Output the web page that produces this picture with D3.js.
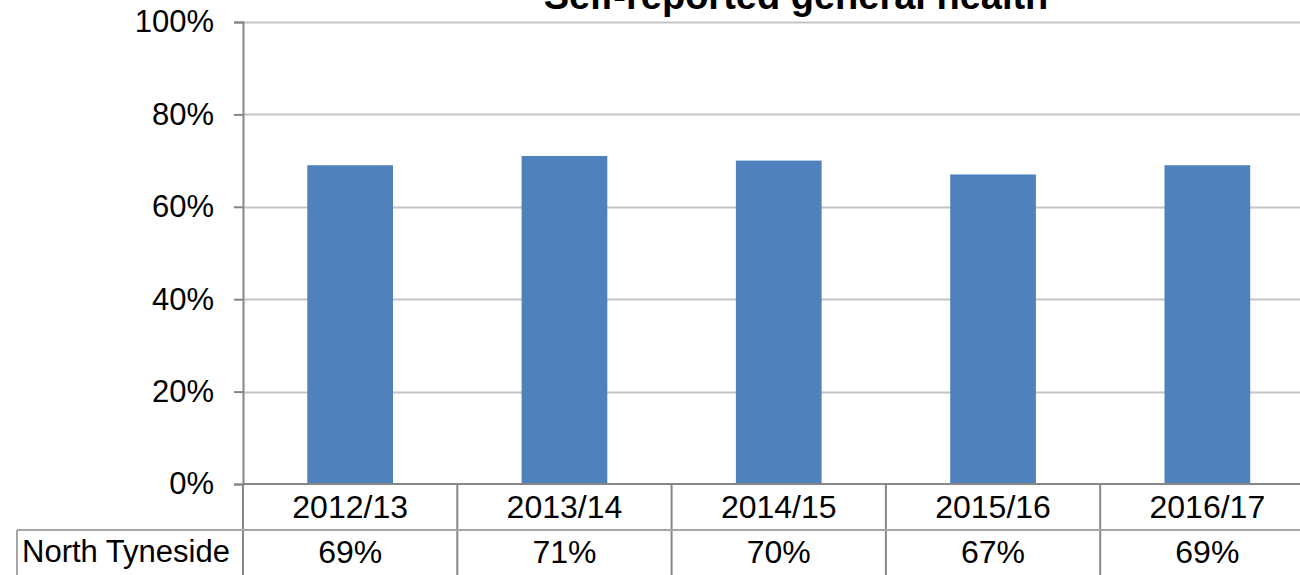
<!DOCTYPE html>
<html>
<head>
<meta charset="utf-8">
<script src="https://cdn.jsdelivr.net/npm/d3@7"></script>
<style>
  html, body { margin: 0; padding: 0; background: #fff; overflow: hidden; }
  svg { display: block; font-family: "Liberation Sans", Arial, Helvetica, sans-serif; }
</style>
</head>
<body>
<svg id="chart" width="1300" height="575"></svg>
<script>
const title = "Self-reported general health";
const categories = ["2012/13", "2013/14", "2014/15", "2015/16", "2016/17"];
const seriesName = "North Tyneside";
const values = [0.69, 0.71, 0.70, 0.67, 0.69];
const yTicks = [0, 0.2, 0.4, 0.6, 0.8, 1.0];

const svg = d3.select("#chart");
const W = 1300, H = 575;
const plotLeft = 243, plotRight = 1314.5, plotTop = 22, plotBottom = 484;
const row1Bottom = 530, rowHeaderLeft = 17;

const x = d3.scaleBand().domain(categories).range([plotLeft, plotRight]).paddingInner(0.6).paddingOuter(0.3);
const xCell = d3.scaleBand().domain(categories).range([plotLeft, plotRight]).padding(0);
const y = d3.scaleLinear().domain([0, 1]).range([plotBottom, plotTop]);

const axisColor = "#868686";
const gridColor = "#c4c4c4";

// gridlines
svg.append("g").selectAll("line").data(yTicks.filter(d => d > 0)).join("line")
  .attr("x1", plotLeft).attr("x2", W)
  .attr("y1", d => Math.round(y(d)) + 0.5).attr("y2", d => Math.round(y(d)) + 0.5)
  .attr("stroke", gridColor).attr("stroke-width", 2);

// bars
svg.append("g").selectAll("rect").data(values).join("rect")
  .attr("x", (d, i) => x(categories[i]))
  .attr("width", x.bandwidth())
  .attr("y", d => y(d))
  .attr("height", d => y(0) - y(d))
  .attr("fill", "#4f81bd");

// y axis
const yAxis = d3.axisLeft(y).tickValues(yTicks).tickFormat(d3.format(".0%")).tickSize(9).tickPadding(20);
const gy = svg.append("g").attr("transform", `translate(${plotLeft},0)`).call(yAxis);
gy.select(".domain").attr("stroke", axisColor).attr("stroke-width", 2);
gy.selectAll(".tick line").attr("stroke", axisColor).attr("stroke-width", 2);
gy.selectAll(".tick text").attr("font-size", 31).attr("fill", "#000")
  .attr("font-family", "'Liberation Sans', Arial, sans-serif");

// horizontal axis line at 0
svg.append("line").attr("x1", plotLeft).attr("x2", W)
  .attr("y1", plotBottom).attr("y2", plotBottom)
  .attr("stroke", axisColor).attr("stroke-width", 2);

// data table lines
const gT = svg.append("g");
gT.selectAll("line.v").data(categories.concat(["__end"])).join("line")
  .attr("class", "v")
  .attr("x1", (d, i) => plotLeft + i * xCell.step())
  .attr("x2", (d, i) => plotLeft + i * xCell.step())
  .attr("y1", plotBottom).attr("y2", H)
  .attr("stroke", axisColor).attr("stroke-width", 2);
gT.append("line").attr("x1", rowHeaderLeft).attr("x2", W)
  .attr("y1", row1Bottom).attr("y2", row1Bottom)
  .attr("stroke", "#a6a6a6").attr("stroke-width", 2);
gT.append("line").attr("x1", rowHeaderLeft).attr("x2", rowHeaderLeft)
  .attr("y1", row1Bottom).attr("y2", H)
  .attr("stroke", "#a6a6a6").attr("stroke-width", 2);

// category labels
gT.selectAll("text.cat").data(categories).join("text")
  .attr("class", "cat")
  .attr("x", d => xCell(d) + xCell.bandwidth() / 2)
  .attr("y", 518)
  .attr("text-anchor", "middle").attr("font-size", 32).text(d => d);

// values row
gT.selectAll("text.val").data(values).join("text")
  .attr("class", "val")
  .attr("x", (d, i) => xCell(categories[i]) + xCell.bandwidth() / 2)
  .attr("y", 563)
  .attr("text-anchor", "middle").attr("font-size", 32).text(d => d3.format(".0%")(d));

gT.append("text").attr("x", 22).attr("y", 562)
  .attr("font-size", 31).text(seriesName);

// title
svg.append("text").attr("x", 796).attr("y", 9)
  .attr("text-anchor", "middle").attr("font-size", 38).attr("font-weight", "bold")
  .text(title);
</script>
</body>
</html>
